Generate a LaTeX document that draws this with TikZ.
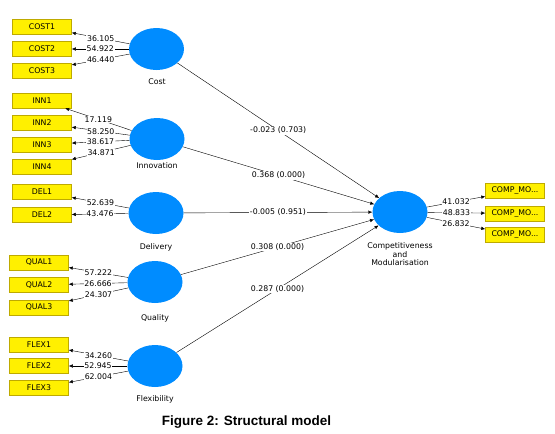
\documentclass[tikz,border=0pt]{standalone}
\usepackage{fontspec}
\setmainfont{DejaVu Sans}
\newfontfamily\capfont{Liberation Sans}
\usetikzlibrary{arrows.meta,shapes.geometric}
\definecolor{lvblue}{RGB}{0,140,255}
\definecolor{indfill}{RGB}{255,240,0}
\definecolor{indline}{RGB}{190,170,0}
\begin{document}
\begin{tikzpicture}[x=1pt,y=-1pt,font=\fontsize{7.8}{9}\selectfont,
  ind/.style={draw=indline,fill=indfill,line width=.5pt,minimum width=59pt,minimum height=15pt,inner sep=0pt},
  lv/.style={ellipse,fill=lvblue,minimum width=55pt,minimum height=42pt,inner sep=0pt},
  load/.style={-{Latex[length=4pt,width=3.5pt]},line width=.4pt},
  val/.style={fill=white,inner sep=.6pt}]
\useasboundingbox[fill=white] (0,0) rectangle (555,434);
% latent variables
\node[lv] (cost) at (156.5,49) {};
\node at (157,82) {Cost};
\node[lv] (inn) at (157,139) {};
\node at (157,166) {Innovation};
\node[lv] (del) at (156,213) {};
\node at (156,247) {Delivery};
\node[lv] (qual) at (155,282) {};
\node at (155,318) {Quality};
\node[lv] (flex) at (155,366) {};
\node at (155,399) {Flexibility};
\node[lv] (comp) at (400,212) {};
\node[align=center,font=\fontsize{7.8}{8.5}\selectfont] at (400,254.5) {Competitiveness\\and\\Modularisation};
% indicators
\node[ind] (cost1) at (42,27) {COST1};
\node[ind] (cost2) at (42,49) {COST2};
\node[ind] (cost3) at (42,70.5) {COST3};
\node[ind] (inn1) at (42,100.5) {INN1};
\node[ind] (inn2) at (42,123) {INN2};
\node[ind] (inn3) at (42,144.5) {INN3};
\node[ind] (inn4) at (42,166.5) {INN4};
\node[ind] (del1) at (42,192) {DEL1};
\node[ind] (del2) at (42,215) {DEL2};
\node[ind] (qual1) at (39,262.5) {QUAL1};
\node[ind] (qual2) at (39,285) {QUAL2};
\node[ind] (qual3) at (39,307.5) {QUAL3};
\node[ind] (flex1) at (39,344.5) {FLEX1};
\node[ind] (flex2) at (39,366) {FLEX2};
\node[ind] (flex3) at (39,388) {FLEX3};
\node[ind] (comp1) at (515,191) {COMP\_MO...};
\node[ind] (comp2) at (515,213.5) {COMP\_MO...};
\node[ind] (comp3) at (515,235) {COMP\_MO...};
% outer loadings
\draw[load] (cost) -- node[val] {36.105} (cost1);
\draw[load] (cost) -- node[val] {54.922} (cost2);
\draw[load] (cost) -- node[val] {46.440} (cost3);
\draw[load] (inn) -- node[val] {17.119} (inn1);
\draw[load] (inn) -- node[val] {58.250} (inn2);
\draw[load] (inn) -- node[val] {38.617} (inn3);
\draw[load] (inn) -- node[val] {34.871} (inn4);
\draw[load] (del) -- node[val] {52.639} (del1);
\draw[load] (del) -- node[val] {43.476} (del2);
\draw[load] (qual) -- node[val] {57.222} (qual1);
\draw[load] (qual) -- node[val] {26.666} (qual2);
\draw[load] (qual) -- node[val] {24.307} (qual3);
\draw[load] (flex) -- node[val] {34.260} (flex1);
\draw[load] (flex) -- node[val] {52.945} (flex2);
\draw[load] (flex) -- node[val] {62.004} (flex3);
\draw[load] (comp) -- node[val] {41.032} (comp1);
\draw[load] (comp) -- node[val] {48.833} (comp2);
\draw[load] (comp) -- node[val] {26.832} (comp3);
% path coefficients
\draw[load] (cost) -- node[val] {-0.023 (0.703)} (comp);
\draw[load] (inn) -- node[val] {0.368 (0.000)} (comp);
\draw[load] (del) -- node[val] {-0.005 (0.951)} (comp);
\draw[load] (qual) -- node[val] {0.308 (0.000)} (comp);
\draw[load] (flex) -- node[val] {0.287 (0.000)} (comp);
\node[font=\capfont\bfseries\fontsize{13.5}{15}\selectfont] at (246.5,422) {Figure 2: Structural model};
\end{tikzpicture}
\end{document}
